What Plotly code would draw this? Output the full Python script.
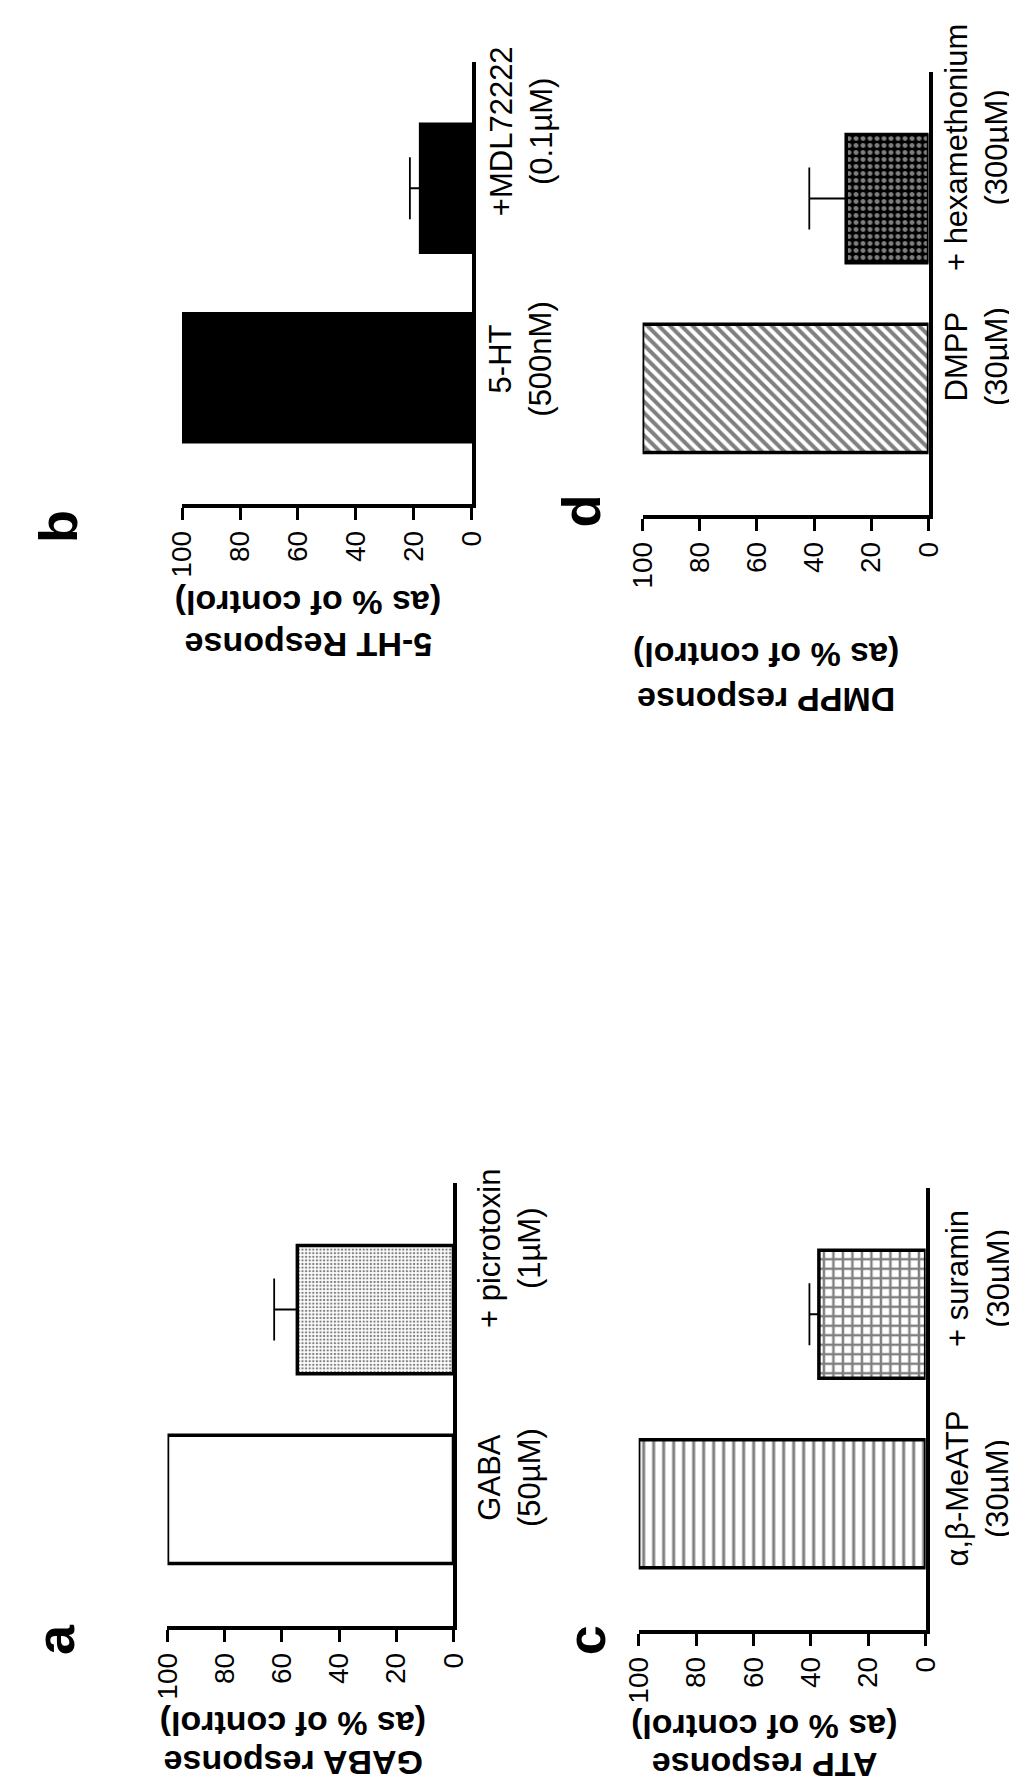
import plotly.graph_objects as go

W, H = 1017, 1781

# ---------------- data ----------------
a_categories = ["GABA", "picrotoxin"]
a_labels = ["GABA<br>(50µM)", "+ picrotoxin<br>(1µM)"]
a_values = [100, 54.6]
a_errors = [None, 8.1]

b_categories = ["5-HT", "MDL72222"]
b_labels = ["5-HT<br>(500nM)", "+MDL72222<br>(0.1µM)"]
b_values = [100, 17.7]
b_errors = [None, 3.7]

c_categories = ["MeATP", "suramin"]
c_labels = ["α,β-MeATP<br>(30µM)", "+ suramin<br>(30µM)"]
c_values = [100, 37.2]
c_errors = [None, 3.3]

d_categories = ["DMPP", "hexamethonium"]
d_labels = ["DMPP<br>(30µM)", "+ hexamethonium<br>(300µM)"]
d_values = [100, 28.8]
d_errors = [None, 12.9]

value_ticks = [0, 20, 40, 60, 80, 100]
value_tick_labels = ["0", "20", "40", "60", "80", "100"]

title_lines = {
    "a": ["(as % of control)", "GABA response"],
    "b": ["(as % of control)", "5-HT Response"],
    "c": ["(as % of control)", "ATP response"],
    "d": ["(as % of control)", "DMPP response"],
}

# ---------------- style / layout ----------------
FONT = "Liberation Sans, Arial, Helvetica, sans-serif"
BLACK = "black"

panels = [
    dict(key="a", cats=a_categories, labels=a_labels, vals=a_values, errs=a_errors,
         px=(148, 443), py=(1175, 1618), label_dx=56, label_dy=[22, 61],
         title_xy=[(278, 1716), (278, 1755)], letter_xy=(32, 1632),
         fills=[dict(color="white"),
                dict(color="white", pattern=dict(shape=".", size=3.6, solidity=0.35, fgcolor=BLACK))]),
    dict(key="b", cats=b_categories, labels=b_labels, vals=b_values, errs=b_errors,
         px=(163, 462), py=(54, 496), label_dx=49, label_dy=[19, 57],
         title_xy=[(293, 595), (293, 637)], letter_xy=(35, 518),
         fills=[dict(color=BLACK), dict(color=BLACK)]),
    dict(key="c", cats=c_categories, labels=c_labels, vals=c_values, errs=c_errors,
         px=(634, 930), py=(1180, 1622), label_dx=52, label_dy=[15, 36],
         title_xy=[(764, 1719), (764, 1757)], letter_xy=(580, 1632),
         fills=[dict(color="white", pattern=dict(shape="|", size=10, solidity=0.3, fgcolor=BLACK)),
                dict(color="white", pattern=dict(shape="+", size=9.5, solidity=0.45, fgcolor=BLACK))]),
    dict(key="d", cats=d_categories, labels=d_labels, vals=d_values, errs=d_errors,
         px=(638, 933), py=(64, 507), label_dx=48, label_dy=[32, 51],
         title_xy=[(766, 647), (766, 692)], letter_xy=(575, 503),
         fills=[dict(color="white", pattern=dict(shape="\\", size=8, solidity=0.5, fgcolor=BLACK)),
                dict(color=BLACK, pattern=dict(shape=".", size=7, solidity=0.4, fgcolor="white"))]),
]

fig = go.Figure()
annotations = []
layout_axes = {}

for i, p in enumerate(panels, start=1):
    xa = "x" if i == 1 else f"x{i}"
    ya = "y" if i == 1 else f"y{i}"
    xkey = "xaxis" if i == 1 else f"xaxis{i}"
    ykey = "yaxis" if i == 1 else f"yaxis{i}"

    for j, (cat, val, err) in enumerate(zip(p["cats"], p["vals"], p["errs"])):
        fill = p["fills"][j]
        marker = dict(color=fill["color"], line=dict(color=BLACK, width=3.5))
        if "pattern" in fill:
            marker["pattern"] = fill["pattern"]
        if err is not None:
            error_x = dict(type="data", array=[err], arrayminus=[0], symmetric=False,
                           color=BLACK, thickness=1.8, width=31, visible=True)
        else:
            error_x = dict(visible=False)
        fig.add_trace(go.Bar(x=[val], y=[cat], orientation="h", width=0.675,
                             marker=marker, error_x=error_x, xaxis=xa, yaxis=ya,
                             showlegend=False, hoverinfo="skip"))

        annotations.append(dict(
            text=p["labels"][j], xref=xa, yref=ya, x=0, y=cat,
            xshift=p["label_dx"], yshift=p["label_dy"][j],
            xanchor="center", yanchor="middle", textangle=-90, showarrow=False,
            font=dict(family=FONT, size=31, color=BLACK), align="center"))

    x100, x0 = p["px"]
    ytop, ybot = p["py"]
    layout_axes[xkey] = dict(
        domain=[x100 / W, x0 / W], range=[100, 0], anchor=ya,
        tickmode="array", tickvals=value_ticks, ticktext=value_tick_labels,
        tickangle=-90, ticks="outside", ticklen=12, tickwidth=3, tickcolor=BLACK,
        showline=True, linewidth=3.5, linecolor=BLACK, showgrid=False, zeroline=False,
        tickfont=dict(family=FONT, size=28, color=BLACK), fixedrange=True)
    layout_axes[ykey] = dict(
        domain=[1 - ybot / H, 1 - ytop / H], anchor=xa, side="right",
        type="category", categoryorder="array", categoryarray=p["cats"],
        range=[-0.666, 1.666], showticklabels=False, ticks="",
        showline=True, linewidth=3.5, linecolor=BLACK, showgrid=False, zeroline=False,
        fixedrange=True)

    for line_text, (tx, ty) in zip(title_lines[p["key"]], p["title_xy"]):
        annotations.append(dict(
            text=line_text, xref="paper", yref="paper", x=tx / W, y=1 - ty / H,
            xanchor="center", yanchor="middle", textangle=180, showarrow=False,
            font=dict(family=FONT, size=34, color=BLACK, weight="bold")))

    lx, ly = p["letter_xy"]
    annotations.append(dict(
        text=p["key"], xref="paper", yref="paper", x=lx / W, y=1 - ly / H,
        xanchor="center", yanchor="middle", textangle=-90, showarrow=False,
        font=dict(family=FONT, size=54, color=BLACK, weight="bold")))

fig.update_layout(
    width=W, height=H, margin=dict(l=0, r=0, t=0, b=0),
    paper_bgcolor="white", plot_bgcolor="white",
    barmode="overlay", showlegend=False, annotations=annotations,
    **layout_axes)

fig.write_html("out.html")
